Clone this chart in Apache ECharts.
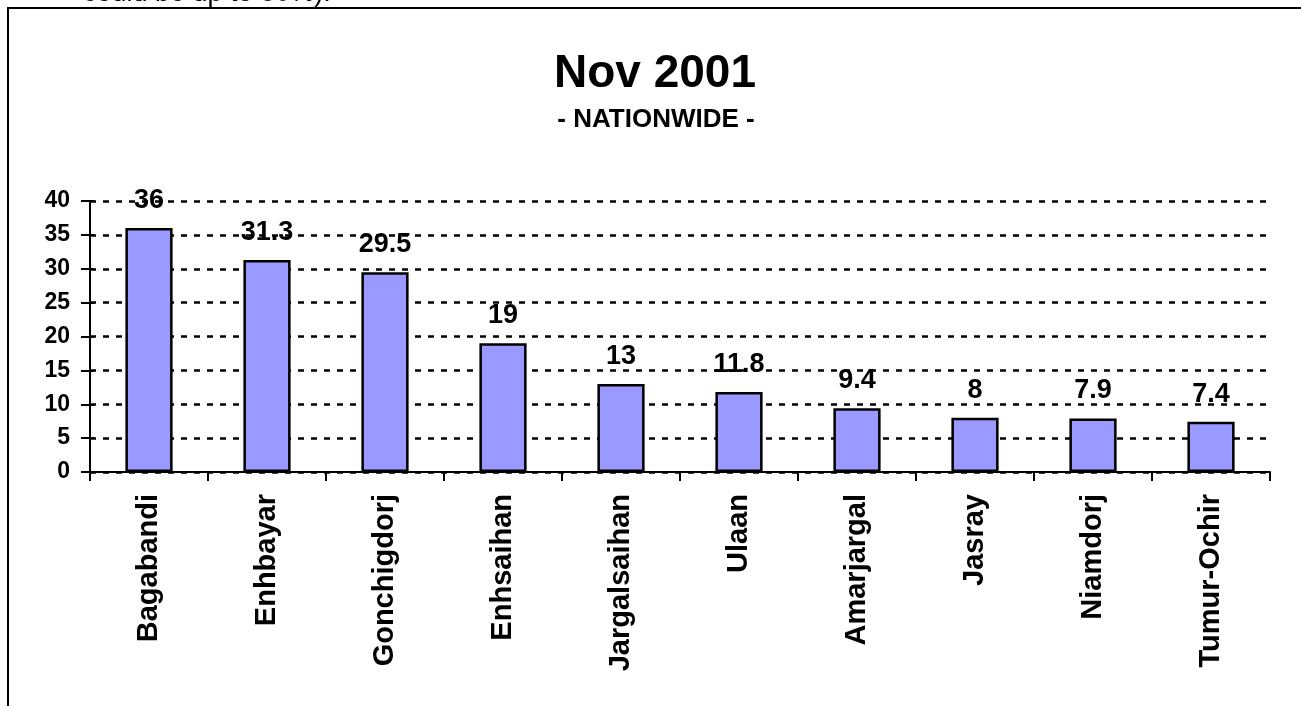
<!DOCTYPE html>
<html>
<head>
<meta charset="utf-8">
<script src="https://cdn.jsdelivr.net/npm/echarts@6/dist/echarts.min.js"></script>
<style>
  html, body { margin: 0; padding: 0; background: #fff; }
  #main { width: 1301px; height: 706px; }
</style>
</head>
<body>
<div id="main"></div>
<script>
// candidates and their share (%)
const candidates = ['Bagabandi', 'Enhbayar', 'Gonchigdorj', 'Enhsaihan', 'Jargalsaihan',
  'Ulaan', 'Amarjargal', 'Jasray', 'Niamdorj', 'Tumur-Ochir'];
const shares = [36, 31.3, 29.5, 19, 13, 11.8, 9.4, 8, 7.9, 7.4];
const yTicks = [0, 5, 10, 15, 20, 25, 30, 35, 40];

const FONT = 'Liberation Sans, Arial, sans-serif';

const chart = echarts.init(document.getElementById('main'));
chart.setOption({
  backgroundColor: '#fff',
  animation: false,
  textStyle: { fontFamily: FONT },
  graphic: [
    {
      type: 'rect',
      shape: { x: 8, y: 8, width: 1400, height: 800 },
      style: { fill: 'none', stroke: '#000', lineWidth: 2 },
      silent: true
    },
    {
      // tail of the page text above the chart, cut off by the crop
      type: 'text',
      left: 83,
      top: -20,
      style: { text: 'could be up to 80%).', font: '27px ' + FONT, fill: '#000' },
      silent: true
    },
    {
      type: 'text',
      x: 655,
      y: 51,
      style: {
        text: 'Nov 2001', font: 'bold 46px ' + FONT, fill: '#000',
        textAlign: 'center'
      }
    },
    {
      type: 'text',
      x: 656,
      y: 107,
      style: {
        text: '- NATIONWIDE -', font: 'bold 26px ' + FONT, fill: '#000',
        textAlign: 'center'
      }
    }
  ],
  grid: { left: 90, right: 31, top: 201, bottom: 234 },
  xAxis: {
    type: 'category',
    data: candidates,
    axisLine: { lineStyle: { color: '#000', width: 2 } },
    axisTick: { show: true, length: 9, lineStyle: { color: '#000', width: 2 } },
    axisLabel: {
      rotate: 90,
      margin: 22,
      color: '#000',
      fontWeight: 'bold',
      fontSize: 29,
      fontFamily: FONT,
      interval: 0
    }
  },
  yAxis: [
    {
      type: 'value',
      min: 0,
      max: 40,
      interval: 5,
      axisLine: { show: true, lineStyle: { color: '#000', width: 2 } },
      axisTick: { show: true, length: 9, lineStyle: { color: '#000', width: 2 } },
      axisLabel: {
        margin: 20,
        color: '#000',
        fontWeight: 'bold',
        fontSize: 23,
        fontFamily: FONT,
        formatter: v => (yTicks.includes(v) ? String(v) : '')
      },
      splitLine: {
        show: true,
        lineStyle: { color: '#000', width: 2.5, type: [6, 7] }
      }
    },
    {
      // inner half of the crossing tick marks
      type: 'value',
      position: 'left',
      min: 0,
      max: 40,
      interval: 5,
      axisLine: { show: false },
      axisTick: { show: true, inside: true, length: 4, lineStyle: { color: '#000', width: 2 } },
      axisLabel: { show: false },
      splitLine: { show: false }
    }
  ],
  series: [
    {
      type: 'bar',
      data: shares,
      barWidth: '40%',
      itemStyle: { color: '#9999ff', borderColor: '#000', borderWidth: 2.5 },
      label: {
        show: true,
        position: 'top',
        distance: 14,
        color: '#000',
        fontWeight: 'bold',
        fontSize: 27,
        fontFamily: FONT
      }
    }
  ]
});
</script>
</body>
</html>
